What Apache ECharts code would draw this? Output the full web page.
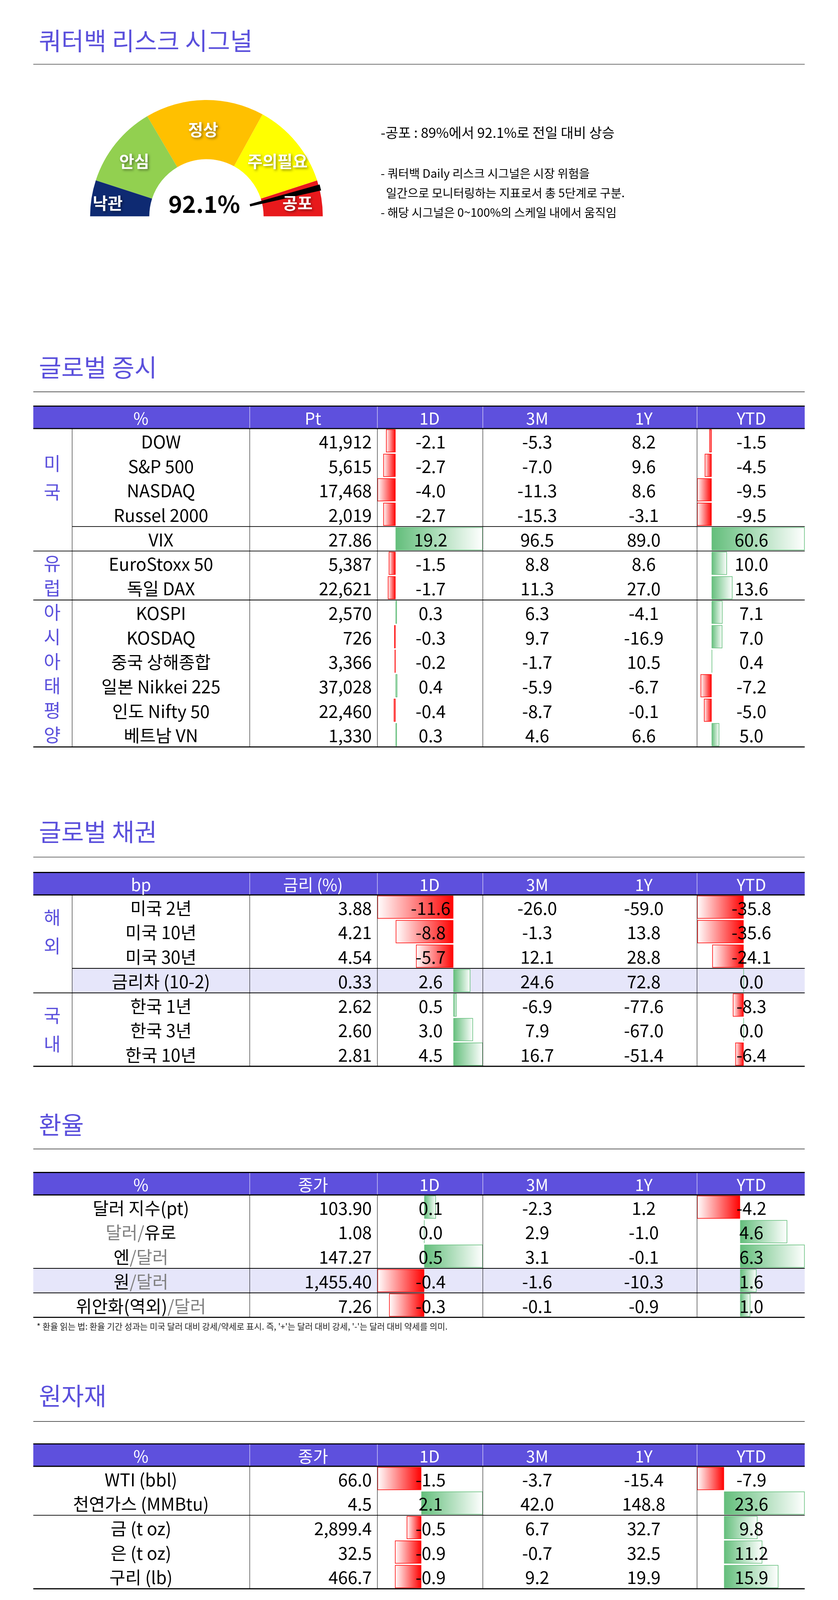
<!DOCTYPE html>
<html><head><meta charset="utf-8">
<script src="https://cdn.jsdelivr.net/npm/echarts@6/dist/echarts.min.js"></script>
<style>html,body{margin:0;padding:0;background:#fff;overflow:hidden}#c{width:100vw;height:100vh}</style>
</head><body><div id="c"></div>
<script>
// ---------- DATA ----------
const riskValue = 92.1;
const riskBands = ['낙관','안심','정상','주의필요','공포'];
const riskStops = [0.10, 0.33, 0.66, 0.90, 1.0];

const eqNames = ['DOW','S&P 500','NASDAQ','Russel 2000','VIX','EuroStoxx 50','독일 DAX','KOSPI','KOSDAQ','중국 상해종합','일본 Nikkei 225','인도 Nifty 50','베트남 VN'];
const eqPt = ['41,912','5,615','17,468','2,019','27.86','5,387','22,621','2,570','726','3,366','37,028','22,460','1,330'];
const eq1D = [-2.1,-2.7,-4.0,-2.7,19.2,-1.5,-1.7,0.3,-0.3,-0.2,0.4,-0.4,0.3];
const eq3M = [-5.3,-7.0,-11.3,-15.3,96.5,8.8,11.3,6.3,9.7,-1.7,-5.9,-8.7,4.6];
const eq1Y = [8.2,9.6,8.6,-3.1,89.0,8.6,27.0,-4.1,-16.9,10.5,-6.7,-0.1,6.6];
const eqYTD = [-1.5,-4.5,-9.5,-9.5,60.6,10.0,13.6,7.1,7.0,0.4,-7.2,-5.0,5.0];

const bdNames = ['미국 2년','미국 10년','미국 30년','금리차 (10-2)','한국 1년','한국 3년','한국 10년'];
const bdRate = ['3.88','4.21','4.54','0.33','2.62','2.60','2.81'];
const bd1D = [-11.6,-8.8,-5.7,2.6,0.5,3.0,4.5];
const bd3M = [-26.0,-1.3,12.1,24.6,-6.9,7.9,16.7];
const bd1Y = [-59.0,13.8,28.8,72.8,-77.6,-67.0,-51.4];
const bdYTD = [-35.8,-35.6,-24.1,0.0,-8.3,0.0,-6.4];

const fxNames = ['달러 지수(pt)','{g|달러/}유로','엔{g|/달러}','원{g|/달러}','위안화(역외){g|/달러}'];
const fxClose = ['103.90','1.08','147.27','1,455.40','7.26'];
const fx1D = [0.1,0.0,0.5,-0.4,-0.3];
const fx3M = [-2.3,2.9,3.1,-1.6,-0.1];
const fx1Y = [1.2,-1.0,-0.1,-10.3,-0.9];
const fxYTD = [-4.2,4.6,6.3,1.6,1.0];

const cmNames = ['WTI (bbl)','천연가스 (MMBtu)','금 (t oz)','은 (t oz)','구리 (lb)'];
const cmClose = ['66.0','4.5','2,899.4','32.5','466.7'];
const cm1D = [-1.5,2.1,-0.5,-0.9,-0.9];
const cm3M = [-3.7,42.0,6.7,-0.7,9.2];
const cm1Y = [-15.4,148.8,32.7,32.5,19.9];
const cmYTD = [-7.9,23.6,9.8,11.2,15.9];

// ---------- LAYOUT ----------
const W = window.innerWidth || 2145, H = window.innerHeight || 4453;
const SX = W/755, SY = H/1568, SF = Math.min(SX, SY);
const FONT = '"Noto Sans CJK KR","Noto Sans",sans-serif';
const PURPLE = '#5b50dc';
const els = [];
function T(x,y,text,o){o=o||{};els.push({type:'text',z:100,x:x*SX,y:y*SY,style:{text:text,fill:o.fill||'#000',font:(o.w||'normal')+' '+((o.size||17)*SF)+'px '+FONT,textAlign:o.align||'center',textVerticalAlign:'middle',rich:o.rich,textShadowColor:o.sh,textShadowBlur:o.sh?6:0,textShadowOffsetX:o.sh?3:0,textShadowOffsetY:o.sh?3:0}});}
function L(x1,y1,x2,y2,w,c){els.push({type:'line',z:90,shape:{x1:x1*SX,y1:y1*SY,x2:x2*SX,y2:y2*SY},style:{stroke:c||'#000',lineWidth:w*SF}});}
function R(x,y,w,h,f,z){els.push({type:'rect',z:z||0,shape:{x:x*SX,y:y*SY,width:w*SX,height:h*SY},style:{fill:f}});}

function section(title,ty,ry){T(35,ty,title,{align:'left',size:24,fill:PURPLE});L(30,ry,725,ry,0.6,'#444');}

const grids=[],xAxes=[],yAxes=[],series=[];
function bars(data,left,width,top,rh,mn,mx){
  const i=grids.length;
  grids.push({left:left*SX,width:width*SX,top:top*SY,height:data.length*rh*SY});
  xAxes.push({gridIndex:i,type:'value',min:mn,max:mx,show:false});
  yAxes.push({gridIndex:i,type:'category',inverse:true,show:false,data:data.map((_,k)=>k)});
  series.push({type:'bar',xAxisIndex:i,yAxisIndex:i,z:5,barCategoryGap:'6%',data:data.map(v=>({value:v,itemStyle:v>=0?
    {color:new echarts.graphic.LinearGradient(0,0,1,0,[{offset:0,color:'#63be7b'},{offset:1,color:'#ffffff'}]),borderColor:'#63be7b',borderWidth:1.5}:
    {color:new echarts.graphic.LinearGradient(0,0,1,0,[{offset:0,color:'#ffffff'},{offset:1,color:'#ff0000'}]),borderColor:'#ff0000',borderWidth:1.5}}))});
}
const f1=v=>v.toFixed(1);
function table(c){
  const top=c.top, hh=22, rh=24, n=c.names.length, rt=top+hh, bot=rt+n*rh;
  (c.lav||[]).forEach(r=>R(r[1],rt+r[0]*rh,725-r[1],rh,'#e6e6fa',1));
  R(30,top,695,hh,'#5e50dd',1);
  const hx=[127,282,387,484,580,677];
  c.head.forEach((h,k)=>T(hx[k],top+hh/2+1,h,{fill:'#fff',size:16}));
  [225,340,435,628].forEach(x=>{L(x,top,x,top+hh,0.4,'#ffffff');L(x,rt,x,bot,0.4,'#000');});
  if(c.region) L(65,rt,65,bot,0.4,'#000');
  L(30,top,725,top,1.1); L(30,rt,725,rt,1.1); L(30,bot,725,bot,1.1);
  (c.seps||[]).forEach(s=>L(s[1],rt+(s[0]+1)*rh,725,rt+(s[0]+1)*rh,0.7));
  (c.regions||[]).forEach(g=>{const ch=g[0].split('');const r0=g[1],r1=g[2];const cy=rt+(r0+r1+1)*rh/2;const sp=(g[3]||24);
    ch.forEach((t,k)=>T(47,cy+(k-(ch.length-1)/2)*sp,t,{fill:PURPLE,size:18}));});
  const nx=c.region?145:127;
  c.names.forEach((t,i)=>{const y=rt+i*rh+rh/2+1;
    T(nx,y,t,{rich:{g:{fill:'#808080',font:'normal '+(17*SF)+'px '+FONT}}});
    T(335,y,c.vals[i],{align:'right'});
    T(388,y,f1(c.d1[i])); T(484,y,f1(c.m3[i])); T(580,y,f1(c.y1[i])); T(677,y,f1(c.ytd[i]));});
  const mm=a=>[Math.min(0,...a),Math.max(0,...a)];
  const a=mm(c.d1), b=c.ytdRange||mm(c.ytd);
  bars(c.d1,340,95,rt,rh,a[0],a[1]);
  bars(c.ytd,628,97,rt,rh,b[0],b[1]);
}

section('쿼터백 리스크 시그널',40,63);
T(343,130,'-공포 : 89%에서 92.1%로 전일 대비 상승',{align:'left',size:13.5});
T(343,170,'- 쿼터백 Daily 리스크 시그널은 시장 위험을',{align:'left',size:11.5});
T(343,189,'  일간으로 모니터링하는 지표로서 총 5단계로 구분.',{align:'left',size:11.5});
T(343,208,'- 해당 시그널은 0~100%의 스케일 내에서 움직임',{align:'left',size:11.5});
const bandPos=[[97,199],[121,158],[183,127],[250,158],[268,199]];
riskBands.forEach((b,i)=>T(bandPos[i][0],bandPos[i][1],b,{fill:'#fff',w:'bold',size:16,sh:'rgba(0,0,0,0.45)'}));
T(184,200,riskValue.toFixed(1)+'%',{w:'bold',size:23});

section('글로벌 증시',360,384);
table({top:398,head:['%','Pt','1D','3M','1Y','YTD'],region:true,names:eqNames,vals:eqPt,d1:eq1D,m3:eq3M,y1:eq1Y,ytd:eqYTD,
  seps:[[3,65],[4,30],[6,30]],regions:[['미국',0,3,28],['유럽',5,6],['아시아태평양',7,12]]});
section('글로벌 채권',815,840);
table({top:855,head:['bp','금리 (%)','1D','3M','1Y','YTD'],region:true,names:bdNames,vals:bdRate,d1:bd1D,m3:bd3M,y1:bd1Y,ytd:bdYTD,
  ytdRange:[-35.8,46.9],seps:[[2,65],[3,30]],lav:[[3,65]],regions:[['해외',0,2,28],['국내',4,6,28]]});
section('환율',1102,1126);
table({top:1149,head:['%','종가','1D','3M','1Y','YTD'],names:fxNames,vals:fxClose,d1:fx1D,m3:fx3M,y1:fx1Y,ytd:fxYTD,
  seps:[[2,30],[3,30]],lav:[[3,30]]});
T(33,1300,"* 환율 읽는 법: 환율 기간 성과는 미국 달러 대비 강세/약세로 표시. 즉, '+'는 달러 대비 강세, '-'는 달러 대비 약세를 의미.",{align:'left',size:8.3,fill:'#222'});
section('원자재',1368,1393);
table({top:1415,head:['%','종가','1D','3M','1Y','YTD'],names:cmNames,vals:cmClose,d1:cm1D,m3:cm3M,y1:cm1Y,ytd:cmYTD,seps:[[1,30]]});

series.push({type:'gauge',center:[186*SX,212*SY],radius:114*SF,startAngle:180,endAngle:0,min:0,max:100,z:3,
  axisLine:{lineStyle:{width:58*SF,color:riskStops.map((s,i)=>[s,['#0e2a72','#92d050','#ffc000','#ffff00','#e8191c'][i]])}},
  splitLine:{show:false},axisTick:{show:false},axisLabel:{show:false},detail:{show:false},title:{show:false},
  pointer:{icon:'path://M0,0 L10,0 L5,100 Z',length:'101%',width:6*SF,itemStyle:{color:'#000'}},
  anchor:{show:true,showAbove:true,size:88*SF,itemStyle:{color:'#fff'}},
  data:[{value:riskValue}]});

const chart=echarts.init(document.getElementById('c'),null,{renderer:'canvas'});
chart.setOption({animation:false,backgroundColor:'#fff',grid:grids,xAxis:xAxes,yAxis:yAxes,series:series,graphic:{elements:els}});
</script></body></html>
